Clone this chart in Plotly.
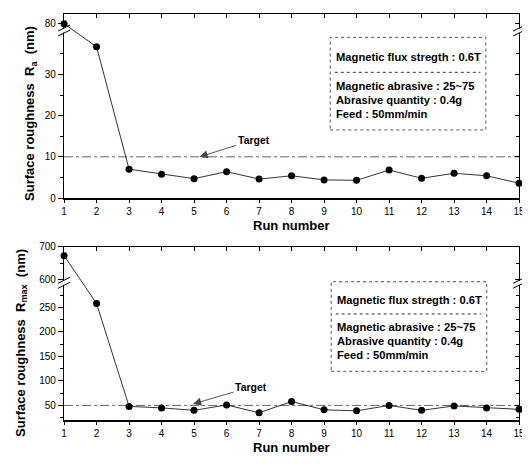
import plotly.graph_objects as go

# ---------------- data ----------------
runs = [1, 2, 3, 4, 5, 6, 7, 8, 9, 10, 11, 12, 13, 14, 15]
ra = [80, 36.7, 7.0, 5.8, 4.7, 6.4, 4.6, 5.4, 4.4, 4.3, 6.8, 4.8, 6.0, 5.4, 3.6]
rmax = [673, 258, 48, 45, 40, 51, 35, 58, 41, 39, 50, 40, 49, 45, 42]
ra_target = 10
rmax_target = 50
ra_ticks = [0, 10, 20, 30, 80]
ra_minor = [5, 15, 25, 35]
rmax_ticks = [50, 100, 150, 200, 250, 600, 700]
rmax_minor = [25, 75, 125, 175, 225, 275, 650]
box_lines = ["Magnetic flux stregth : 0.6T", "Magnetic abrasive : 25~75",
             "Abrasive quantity : 0.4g", "Feed : 50mm/min"]

# broken-axis definitions: (lower segment bottom, lower top, upper bottom, upper top, upper/lower scale ratio)
RA_SEG = (0.0, 40.66, 78.35, 82.36, 1.0)
RMAX_SEG = (20.2, 300.4, 591.0, 700.0, 0.676)


def brk(v, seg):
    lo0, lo1, hi0, hi1, ratio = seg
    return v if v <= lo1 else lo1 + (v - hi0) * ratio


def brk_range(seg):
    lo0, lo1, hi0, hi1, ratio = seg
    return [lo0, lo1 + (hi1 - hi0) * ratio]


# page has an 8px body margin: the figure is drawn inside it
OFF = 8
W, H = 530 - OFF, 464 - OFF


def fx(p):
    return (p - OFF) / W


def fy(p):
    return 1 - (p - OFF) / H


FONT = "Liberation Sans, Arial, sans-serif"
fig = go.Figure()

charts = [
    dict(x="x", y="y", xm="x3", ym="y3", vals=ra, seg=RA_SEG, target=ra_target,
         ticks=ra_ticks, minor=ra_minor, ydom=[fy(197), fy(8)],
         head=(5.17, 10), ax=54, ay=-17,
         box=(0.585, 0.927, 0.370, 0.873), lines_y=[0.767, 0.608, 0.532, 0.455], sep=0.683,
         ytitle="<b>Surface roughness&nbsp; R<sub>a</sub>&nbsp; (nm)</b>", yt_x=fx(28), yt_y=fy(110),
         xt_y=fy(225)),
    dict(x="x2", y="y2", xm="x4", ym="y4", vals=rmax, seg=RMAX_SEG, target=rmax_target,
         ticks=rmax_ticks, minor=rmax_minor, ydom=[fy(425), fy(247)],
         head=(4.97, 53), ax=58, ay=-17,
         box=(0.587, 0.929, 0.281, 0.798), lines_y=[0.691, 0.539, 0.458, 0.376], sep=0.612,
         ytitle="<b>Surface roughness&nbsp; R<sub>max</sub>&nbsp; (nm)</b>", yt_x=fx(18), yt_y=fy(346),
         xt_y=fy(453)),
]

XDOM = [fx(62), fx(525)]
layout = dict(width=W, height=H, margin=dict(l=0, r=0, t=0, b=0),
              paper_bgcolor="white", plot_bgcolor="white", showlegend=False,
              font=dict(family=FONT, size=10, color="black"))
shapes = []
annotations = []

for c in charts:
    seg = c["seg"]
    disp = [brk(v, seg) for v in c["vals"]]
    fig.add_trace(go.Scatter(x=runs, y=disp, xaxis=c["x"], yaxis=c["y"], mode="lines+markers",
                             line=dict(color="black", width=0.8),
                             marker=dict(color="black", size=7), cliponaxis=False,
                             hoverinfo="skip"))
    fig.add_trace(go.Scatter(x=runs, y=disp, xaxis=c["xm"], yaxis=c["ym"], mode="markers",
                             marker=dict(opacity=0), hoverinfo="skip"))
    yr = brk_range(seg)
    tickvals = [brk(v, seg) for v in c["ticks"]]
    ticktext = [str(v) for v in c["ticks"]]
    minorvals = [brk(v, seg) for v in c["minor"]]
    xk = "xaxis" + c["x"][1:]
    yk = "yaxis" + c["y"][1:]
    xmk = "xaxis" + c["xm"][1:]
    ymk = "yaxis" + c["ym"][1:]
    layout[xk] = dict(domain=XDOM, range=[1, 15], anchor=c["y"], tickvals=runs, ticks="outside",
                      ticklen=3, tickwidth=1, tickcolor="black", showline=True, linewidth=1.6,
                      linecolor="black", showgrid=False, zeroline=False,
                      ticklabeloverflow="allow",
                      tickfont=dict(size=10, family=FONT))
    layout[yk] = dict(domain=c["ydom"], range=yr, anchor=c["x"], tickvals=tickvals,
                      ticktext=ticktext, ticks="outside", ticklen=5, tickwidth=1, tickcolor="black",
                      showline=True, linewidth=1.4, linecolor="black", showgrid=False,
                      zeroline=False, tickfont=dict(size=10, family=FONT),
                      minor=dict(tickvals=minorvals, ticks="outside", ticklen=3, tickcolor="black"))
    layout[xmk] = dict(overlaying=c["x"], side="top", anchor=c["ym"], range=[1, 15], tickvals=runs,
                       ticks="inside", ticklen=4, tickcolor="black", showticklabels=False,
                       showline=True, linewidth=1, linecolor="black", showgrid=False, zeroline=False)
    layout[ymk] = dict(overlaying=c["y"], side="right", anchor=c["xm"], range=yr, tickvals=tickvals,
                       ticks="inside", ticklen=4, tickcolor="black", showticklabels=False,
                       showline=True, linewidth=1, linecolor="black", showgrid=False, zeroline=False,
                       minor=dict(tickvals=minorvals, ticks="inside", ticklen=3, tickcolor="black"))

    xd = c["x"] + " domain"
    yd = c["y"] + " domain"
    # target line
    shapes.append(dict(type="line", xref=xd, x0=0, x1=1, yref=c["y"],
                       y0=brk(c["target"], seg), y1=brk(c["target"], seg),
                       line=dict(color="#555", width=0.9, dash="dashdot"), layer="below"))
    # break marks on left and right axes
    bval = seg[1]
    for xa in (0, 1):
        shapes.append(dict(type="rect", xref=xd, xsizemode="pixel", xanchor=xa, x0=-3, x1=3,
                           yref=c["y"], ysizemode="pixel", yanchor=bval, y0=-2, y1=2,
                           fillcolor="white", line=dict(width=0), layer="above"))
        for off in (-2.5, 2.5):
            shapes.append(dict(type="line", xref=xd, xsizemode="pixel", xanchor=xa, x0=-6, x1=6,
                               yref=c["y"], ysizemode="pixel", yanchor=bval,
                               y0=off - 3, y1=off + 3,
                               line=dict(color="black", width=1), layer="above"))
    # info box
    bx0, bx1, by0, by1 = c["box"]
    shapes.append(dict(type="rect", xref=xd, yref=yd, x0=bx0, x1=bx1, y0=by0, y1=by1,
                       fillcolor="white", line=dict(color="#555", width=1, dash="dot"),
                       layer="above"))
    shapes.append(dict(type="line", xref=xd, yref=yd, x0=bx0 + 0.01, x1=bx1 - 0.012,
                       y0=c["sep"], y1=c["sep"], line=dict(color="#333", width=1, dash="dot"),
                       layer="above"))
    for txt, ly in zip(box_lines, c["lines_y"]):
        annotations.append(dict(text="<b>" + txt + "</b>", xref=xd, yref=yd, x=bx0 + 0.008, y=ly,
                                xanchor="left", yanchor="middle", showarrow=False,
                                font=dict(size=11.2, family=FONT, color="black")))
    # target annotation
    hx, hy = c["head"]
    annotations.append(dict(text="<b>Target</b>", x=hx, y=brk(hy, seg), xref=c["x"], yref=c["y"],
                            ax=c["ax"], ay=c["ay"], showarrow=True, arrowhead=2, arrowsize=1.8,
                            arrowwidth=0.9, arrowcolor="#444",
                            font=dict(size=10.5, family=FONT, color="black")))
    # axis titles
    annotations.append(dict(text=c["ytitle"], xref="paper", yref="paper", x=c["yt_x"], y=c["yt_y"],
                            textangle=-90, showarrow=False, xanchor="center", yanchor="middle",
                            font=dict(size=13, family=FONT, color="black")))
    annotations.append(dict(text="<b>Run number</b>", xref="paper", yref="paper",
                            x=(XDOM[0] + XDOM[1]) / 2, y=c["xt_y"], showarrow=False,
                            xanchor="center", yanchor="middle",
                            font=dict(size=13, family=FONT, color="black")))

layout["shapes"] = shapes
layout["annotations"] = annotations
fig.update_layout(**layout)
fig.write_html("out.html")
